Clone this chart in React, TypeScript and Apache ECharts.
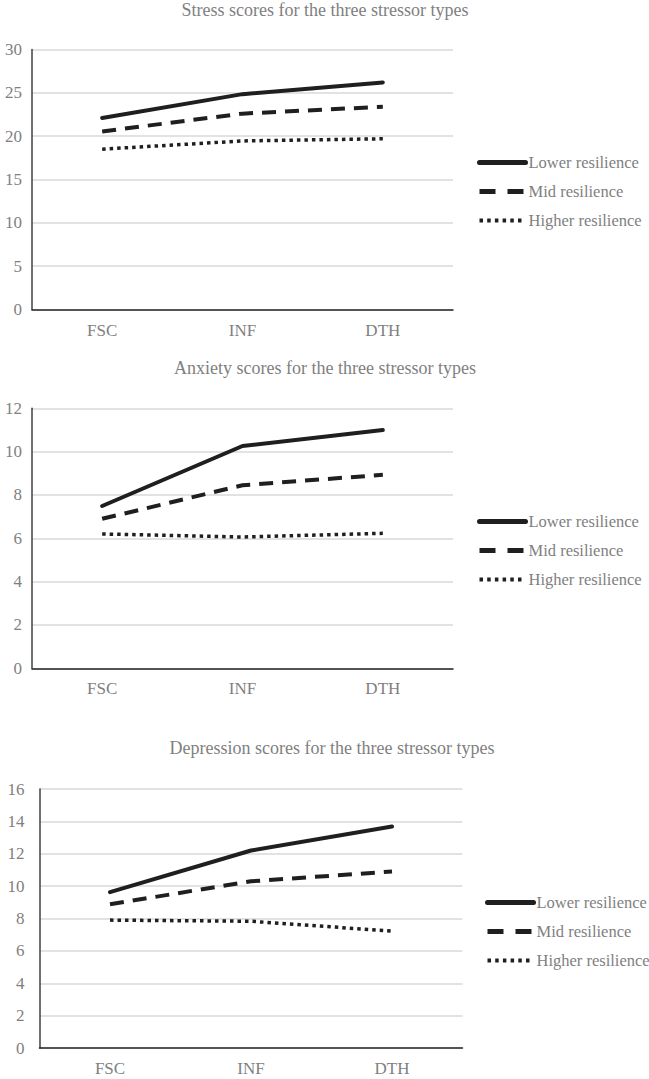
import React, { useEffect, useRef } from "react";
import * as echarts from "echarts";

const categories = ["FSC", "INF", "DTH"];
const seriesNames = ["Lower resilience", "Mid resilience", "Higher resilience"];

const titles = [
  "Stress scores for the three stressor types",
  "Anxiety scores for the three stressor types",
  "Depression scores for the three stressor types",
];

// Stress
const stressLower = [22.1, 24.85, 26.2];
const stressMid = [20.55, 22.6, 23.4];
const stressHigher = [18.5, 19.45, 19.7];

// Anxiety
const anxietyLower = [7.49, 10.26, 11.0];
const anxietyMid = [6.9, 8.45, 8.93];
const anxietyHigher = [6.2, 6.06, 6.23];

// Depression
const depressionLower = [9.63, 12.2, 13.68];
const depressionMid = [8.88, 10.3, 10.9];
const depressionHigher = [7.9, 7.83, 7.22];

const yMax = [30, 12, 16];
const yInterval = [5, 2, 2];

const FONT = "Liberation Serif";
const GRAY = "#7f7f7f";
const LINE = "#1f1f1f";

export default function App() {
  const ref = useRef<HTMLDivElement>(null);

  useEffect(() => {
    document.body.style.margin = "0";
    if (!ref.current) return;
    const chart = echarts.init(ref.current, undefined, { renderer: "svg" });

    const grids = [
      { left: 32, top: 49.5, width: 421, height: 260 },
      { left: 32, top: 408.3, width: 421, height: 260 },
      { left: 39.5, top: 789, width: 423, height: 259 },
    ];
    const titleCenters = [
      { x: 325, y: 1 },
      { x: 325, y: 359 },
      { x: 332, y: 739 },
    ];
    const legendPos = [
      { left: 477, top: 154 },
      { left: 477, top: 513 },
      { left: 485, top: 894 },
    ];
    const labelMargins = [10, 10, 15];
    const data = [
      [stressLower, stressMid, stressHigher],
      [anxietyLower, anxietyMid, anxietyHigher],
      [depressionLower, depressionMid, depressionHigher],
    ];
    const lineStyles = [
      { width: 4, type: "solid" as any, cap: "round" as any },
      { width: 4, type: [14, 9] as any, cap: "butt" as any },
      { width: 3.5, type: [3.5, 4] as any, cap: "butt" as any },
    ];
    const legendLineStyles = [
      { width: 5, type: "solid" as any, color: LINE },
      { width: 5, type: [16, 12] as any, color: LINE },
      { width: 4, type: [3.5, 4.2] as any, color: LINE },
    ];

    const series: any[] = [];
    data.forEach((panel, p) => {
      panel.forEach((vals, s) => {
        series.push({
          type: "line",
          name: seriesNames[s],
          xAxisIndex: p,
          yAxisIndex: p,
          data: vals,
          symbol: "none",
          lineStyle: { color: LINE, ...lineStyles[s] },
          itemStyle: { color: LINE },
          emphasis: { disabled: true },
        });
      });
    });

    chart.setOption({
      animation: false,
      textStyle: { fontFamily: FONT },
      title: titles.map((t, i) => ({
        text: t,
        left: titleCenters[i].x,
        top: titleCenters[i].y,
        textAlign: "center",
        padding: 0,
        textStyle: {
          fontFamily: FONT,
          fontSize: 18,
          fontWeight: "normal",
          color: GRAY,
        },
      })),
      legend: legendPos.map((lp) => ({
        orient: "vertical",
        left: lp.left,
        top: lp.top,
        padding: 0,
        itemWidth: 46,
        itemHeight: 16,
        itemGap: 12,
        data: seriesNames.map((n, k) => ({ name: n, lineStyle: legendLineStyles[k] })),
        selectedMode: false,
        itemStyle: { opacity: 0 },
        textStyle: { fontFamily: FONT, fontSize: 16.5, color: GRAY, padding: [0, 0, 0, -2] },
      })),
      grid: grids.map((g) => ({ ...g, containLabel: false })),
      xAxis: grids.map((_, i) => ({
        type: "category",
        gridIndex: i,
        data: categories,
        boundaryGap: true,
        axisTick: { show: false },
        axisLine: { lineStyle: { color: "#262626", width: 1.5 } },
        axisLabel: { fontFamily: FONT, fontSize: 17, color: GRAY, margin: 12 },
      })),
      yAxis: grids.map((_, i) => ({
        type: "value",
        gridIndex: i,
        min: 0,
        max: yMax[i],
        interval: yInterval[i],
        axisLine: { show: true, lineStyle: { color: "#404040", width: 1.5 } },
        axisTick: { show: false },
        splitLine: { lineStyle: { color: "#d9d9d9", width: 1.5 } },
        axisLabel: { fontFamily: FONT, fontSize: 17, color: GRAY, margin: labelMargins[i] },
      })),
      series,
    });

    return () => chart.dispose();
  }, []);

  return (
    <div
      ref={ref}
      style={{ position: "absolute", left: 0, top: 0, width: 649, height: 1079, background: "#fff" }}
    />
  );
}
